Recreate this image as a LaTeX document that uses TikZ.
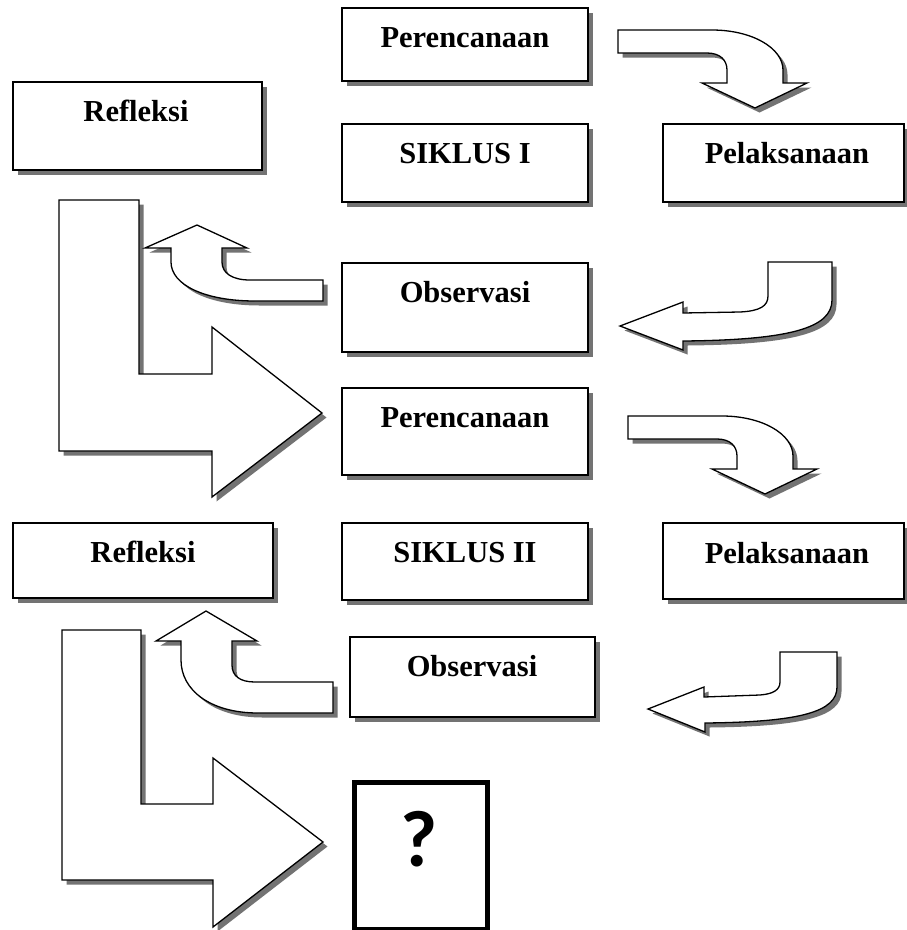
\documentclass[tikz,border=0pt]{standalone}
\usepackage{fontspec}
\setmainfont{Liberation Serif}
\newfontfamily\qfont{Carlito}
\usetikzlibrary{shadows}
\begin{document}
\begin{tikzpicture}[x=1pt,y=-1pt,
  shad/.style={drop shadow={shadow xshift=4.5pt, shadow yshift=-4.5pt, opacity=1, fill=black!55}},
  box/.style={draw, line width=2pt, fill=white, shad, anchor=north west, inner sep=0pt, outer sep=0pt},
  arrowshape/.style={draw, line width=1.3pt, fill=white, shad, line join=miter},
  lbl/.style={anchor=base, font=\fontsize{30.5}{36}\selectfont\bfseries, inner sep=0pt}]
\fill[white] (0,0) rectangle (906,930);
\useasboundingbox (0,0) rectangle (906,930);

% ---------- boxes, cycle I ----------
\node[box, minimum width=246pt, minimum height=73pt] (per1) at (342,8) {};
\node[lbl] (per1t) at (465,47) {Perencanaan};
\node[box, minimum width=249pt, minimum height=88pt] (ref1) at (13,82) {};
\node[lbl] (ref1t) at (136,121) {Refleksi};
\node[box, minimum width=246pt, minimum height=78pt] (sik1) at (342,124) {};
\node[lbl] (sik1t) at (465,163) {SIKLUS I};
\node[box, minimum width=241pt, minimum height=78pt] (pel1) at (663,124) {};
\node[lbl] (pel1t) at (787,163) {Pelaksanaan};
\node[box, minimum width=246pt, minimum height=89pt] (obs1) at (342,263) {};
\node[lbl] (obs1t) at (465,302) {Observasi};

% ---------- boxes, cycle II ----------
\node[box, minimum width=246pt, minimum height=87pt] (per2) at (342,388) {};
\node[lbl] (per2t) at (465,427) {Perencanaan};
\node[box, minimum width=260pt, minimum height=75pt] (ref2) at (13,523) {};
\node[lbl] (ref2t) at (143,562) {Refleksi};
\node[box, minimum width=246pt, minimum height=77pt] (sik2) at (342,523) {};
\node[lbl] (sik2t) at (465,562) {SIKLUS II};
\node[box, minimum width=241pt, minimum height=76pt] (pel2) at (663,523) {};
\node[lbl] (pel2t) at (787,563) {Pelaksanaan};
\node[box, minimum width=245pt, minimum height=80pt] (obs2) at (350,637) {};
\node[lbl] (obs2t) at (472,676) {Observasi};

% ---------- question box ----------
\node[draw, line width=4.5pt, fill=white, anchor=north west, inner sep=0pt,
      minimum width=133pt, minimum height=147pt] (q) at (352,780) {};
\node[anchor=base, inner sep=0pt, font=\qfont\bfseries\fontsize{80}{82}\selectfont] (qt) at (419,866) {?};

% ---------- arrows, cycle I ----------
% Perencanaan -> Pelaksanaan
\path[arrowshape] (618,30) -- (712,30) .. controls (752,30) and (783,48) .. (783,70)
  -- (783,83) -- (807,83) -- (755,108) -- (702,83) -- (727,83) -- (727,70)
  .. controls (727,60) and (720,53) .. (707,53) -- (618,53) -- cycle;
% Pelaksanaan -> Observasi
\path[arrowshape] (768,262) -- (832,262) -- (832,300) .. controls (832,328) and (790,340) .. (683,341)
  -- (683,350) -- (620,326) -- (683,302) -- (683,313) -- (740,312)
  .. controls (760,311) and (768,306) .. (768,296) -- cycle;
% big L arrow
\path[arrowshape] (59,200) -- (139,200) -- (139,374) -- (212,374) -- (212,327) -- (322,413)
  -- (212,497) -- (212,451) -- (59,451) -- cycle;
% Observasi -> Refleksi
\path[arrowshape] (171,248) -- (145,248) -- (197,225) -- (247,248) -- (222,248) -- (222,262)
  .. controls (222,273) and (232,280) .. (250,280) -- (323,280) -- (323,301) -- (255,301)
  .. controls (205,301) and (171,285) .. (171,262) -- cycle;

% ---------- arrows, cycle II ----------
\begin{scope}[shift={(10,386)}]
\path[arrowshape] (618,30) -- (712,30) .. controls (752,30) and (783,48) .. (783,70)
  -- (783,83) -- (807,83) -- (755,108) -- (702,83) -- (727,83) -- (727,70)
  .. controls (727,60) and (720,53) .. (707,53) -- (618,53) -- cycle;
\end{scope}
\path[arrowshape] (780,652) -- (837,652) -- (837,687) .. controls (837,712) and (800,722) .. (705,723)
  -- (705,732) -- (648,709) -- (704,687) -- (704,697) -- (760,695)
  .. controls (773,694) and (780,690) .. (780,682) -- cycle;
\path[arrowshape] (62,630) -- (141,630) -- (141,804) -- (213,804) -- (213,758) -- (323,842)
  -- (213,927) -- (213,880) -- (62,880) -- cycle;
\path[arrowshape] (181,641) -- (156,641) -- (206,611) -- (257,641) -- (232,641) -- (232,665)
  .. controls (232,676) and (240,682) .. (255,682) -- (333,682) -- (333,713) -- (258,713)
  .. controls (210,713) and (181,690) .. (181,660) -- cycle;
\end{tikzpicture}
\end{document}
